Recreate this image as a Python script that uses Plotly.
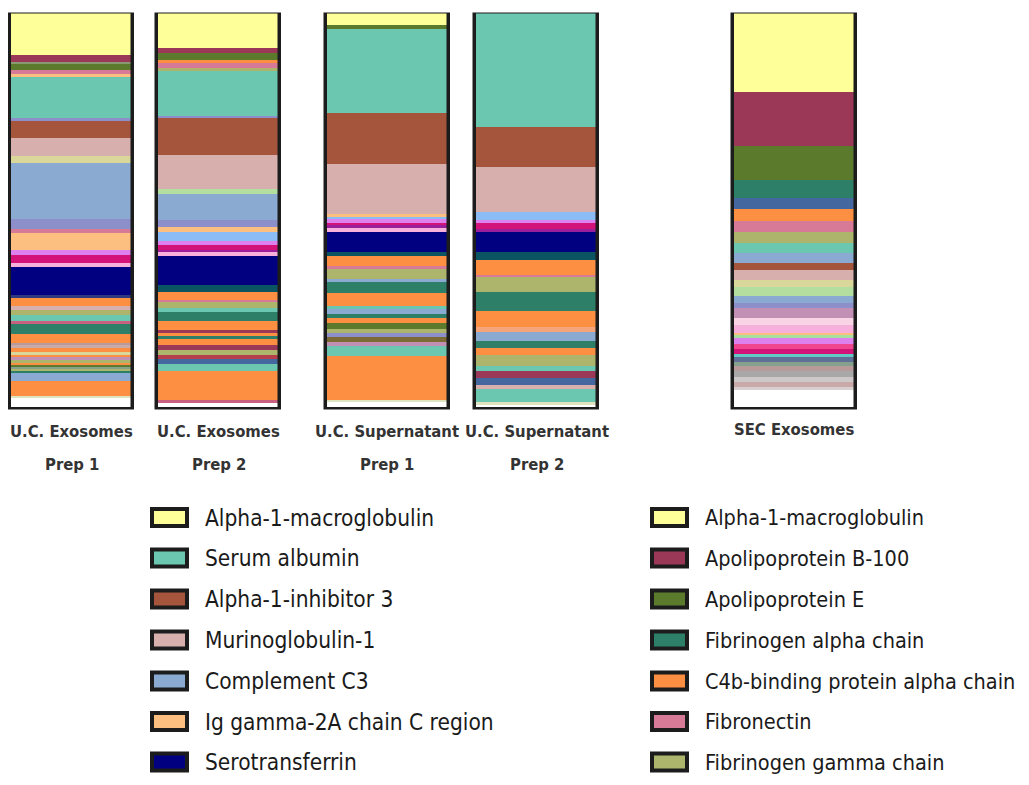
import numpy as np
import plotly.graph_objects as go

# ---------------- DATA ----------------
sample_line1 = ["U.C. Exosomes", "U.C. Exosomes", "U.C. Supernatant", "U.C. Supernatant", "SEC Exosomes"]
sample_line2 = ["Prep 1", "Prep 2", "Prep 1", "Prep 2", ""]

legend_left = ["Alpha-1-macroglobulin", "Serum albumin", "Alpha-1-inhibitor 3", "Murinoglobulin-1",
               "Complement C3", "Ig gamma-2A chain C region", "Serotransferrin"]
legend_right = ["Alpha-1-macroglobulin", "Apolipoprotein B-100", "Apolipoprotein E",
                "Fibrinogen alpha chain", "C4b-binding protein alpha chain", "Fibronectin",
                "Fibrinogen gamma chain"]

uce1_proteins = ["Alpha-1-macroglobulin", "Apolipoprotein B-100", "P45", "Apolipoprotein E", "Fibronectin", "P44",
                 "Serum albumin", "P11", "Alpha-1-inhibitor 3", "Murinoglobulin-1", "P9", "Complement C3", "P12",
                 "P41", "Ig gamma-2A chain C region", "P13", "P14", "P15", "Serotransferrin", "P27",
                 "C4b-binding protein alpha chain", "P29", "Fibrinogen gamma chain", "P6", "P42",
                 "Fibrinogen alpha chain", "P1", "P46", "P30", "P2", "P10", "P3", "P22", "P35", "P4", "P40",
                 "P24", "P36", "P33", "P31", "P5", "P26"]
uce1_values = [10.6, 1.8, 0.5, 1.5, 1.0, 0.8,
               10.3, 0.8, 4.3, 4.5, 1.8, 14.1, 2.3,
               1.0, 4.3, 1.3, 2.0, 1.0, 7.1, 0.8,
               2.0, 1.0, 1.3, 1.5, 0.8,
               2.5, 2.3, 0.5, 0.8, 0.8, 0.8, 0.8, 0.5, 0.8, 0.5, 0.5,
               0.5, 0.5, 0.5, 2.0, 3.8, 0.5]

uce2_proteins = ["Alpha-1-macroglobulin", "Apolipoprotein B-100", "Apolipoprotein E", "P1", "Fibronectin", "P35",
                 "Serum albumin", "P11", "Alpha-1-inhibitor 3", "Murinoglobulin-1", "P18", "Complement C3", "P12",
                 "P44", "P17", "P13", "P14", "P28", "P15", "Serotransferrin", "P16",
                 "C4b-binding protein alpha chain", "P41", "Fibrinogen gamma chain", "P6", "Fibrinogen alpha chain",
                 "P2", "P38", "P3", "P33", "P4", "P39", "P36", "P48", "P19", "P7", "P5", "P42"]
uce2_values = [8.8, 1.2, 2.0, 0.5, 1.5, 0.5,
               11.6, 0.3, 9.3, 8.6, 1.3, 6.5, 1.8,
               1.3, 2.3, 1.0, 1.3, 0.5, 1.0, 7.3, 1.8,
               2.0, 0.5, 1.5, 1.0, 2.3,
               2.3, 0.5, 0.8, 0.8, 1.5, 1.3, 1.3, 1.0, 1.3, 1.8, 7.1, 0.8]

ucs1_proteins = ["Alpha-1-macroglobulin", "Apolipoprotein E", "Serum albumin", "Alpha-1-inhibitor 3",
                 "Murinoglobulin-1", "P44", "P17", "P13", "P14", "P28", "P15", "Serotransferrin", "P16",
                 "C4b-binding protein alpha chain", "P41", "Fibrinogen gamma chain", "P31", "Fibrinogen alpha chain",
                 "P1", "P6", "P32", "P33", "P2", "P40", "P35", "P11", "P49", "P22", "P7", "P5", "P26"]
ucs1_values = [3.1, 1.0, 21.2, 12.8,
               12.6, 0.8, 0.5, 0.8, 0.8, 0.5, 1.0, 5.0, 1.0,
               2.8, 0.5, 2.8, 0.5, 2.8,
               3.3, 0.8, 1.3, 0.8, 1.5, 1.3, 1.0, 1.0, 1.3, 1.0, 2.7, 11.0, 0.5]

ucs2_proteins = ["Serum albumin", "Alpha-1-inhibitor 3", "Murinoglobulin-1", "P17", "P13", "P14", "P28",
                 "Serotransferrin", "P16", "C4b-binding protein alpha chain", "P41", "Fibrinogen gamma chain",
                 "Fibrinogen alpha chain", "P1", "P50", "P31", "P33", "P2", "P35", "P6", "P38", "P19", "P29",
                 "P7", "P26"]
ucs2_values = [28.8, 10.1, 11.3, 2.0, 0.8, 1.3, 0.8,
               5.0, 2.0, 4.0, 0.3, 3.8,
               4.8, 4.0, 1.3, 2.3, 1.8, 1.8, 2.7, 1.3, 1.8, 1.8, 0.8,
               3.3, 0.8]

sec_proteins = ["Alpha-1-macroglobulin", "Apolipoprotein B-100", "Apolipoprotein E", "Fibrinogen alpha chain", "P19",
                "C4b-binding protein alpha chain", "Fibronectin", "Fibrinogen gamma chain", "P6", "P31", "P43",
                "P29", "P9", "P18", "P32", "P11", "P22", "P21", "P15", "P44", "P51", "P13", "P23", "P14", "P8",
                "P20", "P24", "P46", "P25", "P47", "P30", "P52"]
sec_values = [20.0, 13.4, 8.6, 4.5, 2.8,
              3.0, 2.8, 2.8, 2.5, 2.5, 1.8,
              2.5, 1.8, 2.3, 1.8, 1.3, 2.5, 1.8, 1.8, 0.8, 0.5, 1.5, 1.3, 1.3, 0.8,
              1.3, 1.0, 1.3, 1.3, 1.3, 1.3, 0.8]

samples_proteins = [uce1_proteins, uce2_proteins, ucs1_proteins, ucs2_proteins, sec_proteins]
samples_values = [uce1_values, uce2_values, ucs1_values, ucs2_values, sec_values]

# ---------------- STYLE ----------------
COLORS = {
    "Alpha-1-macroglobulin": "#ffff99", "Serum albumin": "#6cc7b1", "Alpha-1-inhibitor 3": "#a5553b",
    "Murinoglobulin-1": "#d7b0ae", "Complement C3": "#8aaad1", "Ig gamma-2A chain C region": "#fdbf80",
    "Serotransferrin": "#000080", "Apolipoprotein B-100": "#9b3858", "Apolipoprotein E": "#5b7a2b",
    "Fibrinogen alpha chain": "#2e7f68", "C4b-binding protein alpha chain": "#fc8f42",
    "Fibronectin": "#d77a98", "Fibrinogen gamma chain": "#adb56d",
    "P1": "#fc8f42", "P2": "#fc8f42", "P3": "#fc8f42", "P4": "#fc8f42", "P5": "#fc8f42",
    "P6": "#6cc7b1", "P7": "#6cc7b1", "P8": "#62c9c4",
    "P9": "#d9d79a", "P10": "#d9d79a", "P11": "#8c8fc9", "P12": "#8c8fc9",
    "P13": "#df80ef", "P14": "#d3127a", "P15": "#f7b0dc", "P16": "#0b5563", "P17": "#8cbcf5",
    "P18": "#b3dea0", "P19": "#4567a0", "P20": "#5f6f98", "P21": "#f8d4e4", "P22": "#c290b5",
    "P23": "#f0458f", "P24": "#86a08e", "P25": "#a8a8a8", "P26": "#dfe3c0", "P27": "#2e3a80",
    "P28": "#9b1e9b", "P29": "#d7b0ae", "P30": "#c9aaa8", "P31": "#8aaad1", "P32": "#8aaad1",
    "P33": "#2e7f68", "P35": "#adb56d", "P36": "#adb56d", "P38": "#9b3858", "P39": "#9b3858",
    "P40": "#5b7a2b", "P41": "#d77a98", "P42": "#c86080", "P43": "#a5553b", "P44": "#fdbf80",
    "P45": "#8a9a70", "P46": "#b89a9a", "P47": "#cfc8c8", "P48": "#b5404c", "P49": "#7d6b35",
    "P50": "#f6a47a", "P51": "#a8e0a0", "P52": "#d8d0d0",
}

# The page body has an 8px default margin on every side; size the figure so nothing overflows
# and map axis/paper coordinates to screen pixels.
PAGE_OFF = 8
WIN_W, WIN_H = 1029, 785
W, H = WIN_W - 2 * PAGE_OFF, WIN_H - 2 * PAGE_OFF
BAR_CENTERS = [71.5, 218.5, 387.0, 536.5, 794.0]   # screen px
BAR_WIDTH = 123
PX_TOP, PX_BOTTOM = 12.5, 409.5
BORDER = "#1c1c1c"
COND = "Noto Sans Condensed, Liberation Sans Narrow, Arial Narrow, DejaVu Sans Condensed, Liberation Sans"
LABEL_FONT = dict(family=COND, size=16.5, color="#333333", weight=700)
LEGEND_FONTS = [dict(family=COND, size=22.5, color="#1a1a1a"),
                dict(family=COND, size=21.5, color="#1a1a1a")]


def py(px):
    """screen pixel row -> paper y"""
    return 1 - (px - PAGE_OFF) / H


fig = go.Figure()

for xc, names, vals in zip(BAR_CENTERS, samples_proteins, samples_values):
    vals = np.array(vals, dtype=float)
    bases = np.concatenate([[0.0], np.cumsum(vals)[:-1]])
    fig.add_trace(go.Bar(
        x=[xc] * len(vals), y=vals, base=bases, width=BAR_WIDTH,
        marker=dict(color=[COLORS[n] for n in names], line=dict(width=0)),
        hovertext=names, hoverinfo="text+y", showlegend=False,
    ))
    fig.add_trace(go.Bar(
        x=[xc], y=[100], base=[0], width=BAR_WIDTH,
        marker=dict(color="rgba(0,0,0,0)", line=dict(color=BORDER, width=3.5)),
        hoverinfo="skip", showlegend=False,
    ))

# sample labels
for xc, l1, l2 in zip(BAR_CENTERS, sample_line1, sample_line2):
    if l2:
        fig.add_annotation(x=xc, y=py(432), xref="x", yref="paper", text=l1,
                           showarrow=False, font=LABEL_FONT, xanchor="center", yanchor="middle")
        fig.add_annotation(x=xc, y=py(464), xref="x", yref="paper", text=l2,
                           showarrow=False, font=LABEL_FONT, xanchor="center", yanchor="middle")
    else:
        fig.add_annotation(x=xc, y=py(429), xref="x", yref="paper", text=l1,
                           showarrow=False, font=LABEL_FONT, xanchor="center", yanchor="middle")

# legends (two columns)
ROW_Y = [517.5, 558, 599, 640, 681, 721.5, 762]
for col_x, items, lfont in ((152, legend_left, LEGEND_FONTS[0]), (652, legend_right, LEGEND_FONTS[1])):
    for ry, name in zip(ROW_Y, items):
        fig.add_shape(type="rect", xref="x", yref="paper", x0=col_x, x1=col_x + 35,
                      y0=py(ry - 8.5), y1=py(ry + 8.5),
                      fillcolor=COLORS[name], line=dict(color=BORDER, width=4))
        fig.add_annotation(x=col_x + 51, y=py(ry), xref="x", yref="paper", text=name,
                           showarrow=False, font=lfont, xanchor="left", yanchor="middle")

fig.update_layout(
    width=W, height=H, autosize=False,
    margin=dict(l=0, r=0, t=0, b=0),
    paper_bgcolor="white", plot_bgcolor="white",
    barmode="overlay", bargap=0,
    showlegend=False,
    xaxis=dict(range=[PAGE_OFF, WIN_W - PAGE_OFF], visible=False, fixedrange=True),
    yaxis=dict(range=[100, 0], domain=[py(PX_BOTTOM), py(PX_TOP)], visible=False, fixedrange=True),
)

fig.write_html("out.html")
